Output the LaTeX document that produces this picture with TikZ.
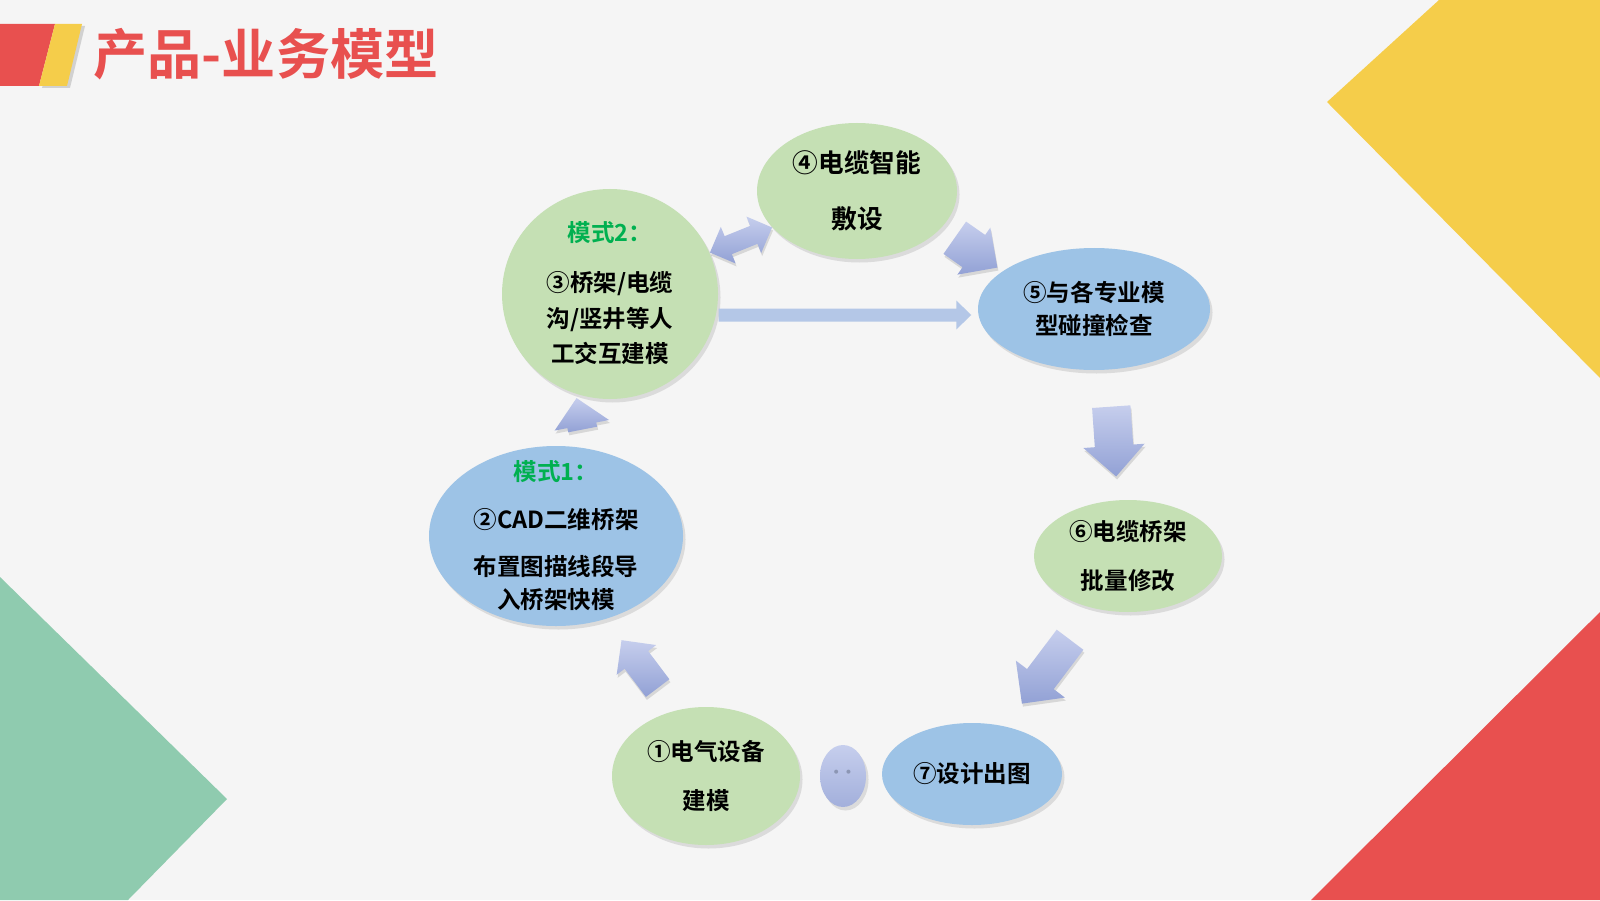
\documentclass[tikz,border=0pt]{standalone}
\usepackage{fontspec}
\newfontfamily\cjkbold{Noto Sans CJK SC Bold}
\definecolor{BgGray}{RGB}{245,245,245}
\definecolor{TitleRed}{RGB}{232,80,79}
\definecolor{CornerYellow}{RGB}{245,205,74}
\definecolor{CornerGreen}{RGB}{143,203,175}
\definecolor{LeafGreen}{RGB}{197,224,180}
\definecolor{SkyBlue}{RGB}{157,195,230}
\definecolor{ModeGreen}{RGB}{0,176,80}
\definecolor{ArrowLight}{RGB}{198,206,237}
\definecolor{ArrowDark}{RGB}{146,161,213}
\definecolor{LineBlue}{RGB}{180,199,231}
\definecolor{DotGray}{RGB}{140,150,180}
\usetikzlibrary{arrows.meta, shapes.geometric, shapes.arrows, shadows, positioning}

\begin{document}
\begin{tikzpicture}[
    stage/.style={ellipse, draw=none, inner sep=0pt,
      drop shadow={opacity=0.22, shadow xshift=0.025cm, shadow yshift=-0.035cm}},
    stagetext/.style={align=center, inner sep=0pt, text=black,
      font=\cjkbold\fontsize{6.7}{9.4}\selectfont},
    flow/.style={single arrow, draw=none, inner xsep=0pt, minimum width=0pt,
      top color=ArrowLight, bottom color=ArrowDark,
      drop shadow={opacity=0.25, shadow xshift=0.01cm, shadow yshift=-0.03cm}},
  ]
  \useasboundingbox (0,0) rectangle (16,9);
  \fill[BgGray] (0,0) rectangle (16,9);

  % corners
  \fill[CornerYellow] (14.39,9) -- (16,9) -- (16,5.22) -- (13.27,7.98) -- cycle;
  \fill[CornerGreen] (0,3.23) -- (2.27,1.01) -- (1.28,0) -- (0,0) -- cycle;
  \fill[TitleRed] (16,2.88) -- (13.11,0) -- (16,0) -- cycle;

  % title
  \fill[TitleRed] (0,8.76) -- (0.55,8.76) -- (0.39,8.14) -- (0,8.14) -- cycle;
  \fill[CornerYellow, drop shadow={opacity=0.3, shadow xshift=0.03cm, shadow yshift=-0.02cm}]
    (0.55,8.76) -- (0.82,8.76) -- (0.67,8.14) -- (0.39,8.14) -- cycle;
  \node[anchor=west, inner sep=0pt, text=TitleRed, font=\cjkbold\fontsize{15.4}{18}\selectfont]
    (title) at (0.93,8.46) {产品-业务模型};

  % stages
  \node[stage, fill=LeafGreen, minimum width=2.00cm, minimum height=1.36cm] (n4) at (8.57,7.09) {};
  \node[stage, fill=LeafGreen, minimum width=2.16cm, minimum height=2.10cm] (n3) at (6.10,6.06) {};
  \node[stage, fill=SkyBlue, minimum width=2.32cm, minimum height=1.22cm] (n5) at (10.94,5.91) {};
  \node[stage, fill=SkyBlue, minimum width=2.54cm, minimum height=1.80cm] (n2) at (5.56,3.64) {};
  \node[stage, fill=LeafGreen, minimum width=1.88cm, minimum height=1.12cm] (n6) at (11.28,3.44) {};
  \node[stage, fill=LeafGreen, minimum width=1.88cm, minimum height=1.38cm] (n1) at (7.06,1.24) {};
  \node[stage, top color=ArrowLight, bottom color=ArrowDark!85, minimum width=0.46cm, minimum height=0.62cm,
        text=DotGray, font=\cjkbold\fontsize{7}{8}\selectfont] (more) at (8.43,1.24) {‥};
  \node[stage, fill=SkyBlue, minimum width=1.80cm, minimum height=1.02cm] (n7) at (9.72,1.26) {};

  \node[stagetext, font=\cjkbold\fontsize{7.3}{15.9}\selectfont] (t4) at (n4) {④电缆智能\\敷设};
  \node[stagetext, font=\cjkbold\fontsize{6.7}{10.1}\selectfont] (t3) at (6.10,6.065)
    {{\color{ModeGreen}模式2：}\\[0.145cm]③桥架/电缆\\沟/竖井等人\\工交互建模};
  \node[stagetext] (t5) at (n5) {⑤与各专业模\\型碰撞检查};
  \node[stagetext] (t2) at (n2)
    {{\color{ModeGreen}模式1：}\\[0.15cm]②CAD二维桥架\\[0.14cm]布置图描线段导\\入桥架快模};
  \node[stagetext, font=\cjkbold\fontsize{6.7}{13.9}\selectfont] (t6) at (n6) {⑥电缆桥架\\批量修改};
  \node[stagetext, font=\cjkbold\fontsize{6.7}{13.9}\selectfont] (t1) at (n1) {①电气设备\\建模};
  \node[stagetext] (t7) at (n7) {⑦设计出图};

  % flow arrows
  \node[flow, double arrow, inner ysep=0.09cm, double arrow head extend=0.10cm,
        minimum height=0.67cm, rotate=22] (a34) at (7.41,6.60) {};
  \node[flow, inner ysep=0.19cm, single arrow head extend=0.09cm,
        minimum height=0.52cm, rotate=-35] (a45) at (9.68,6.53) {};
  \node[flow, inner ysep=0.185cm, single arrow head extend=0.115cm,
        minimum height=0.70cm, rotate=-86] (a56) at (11.13,4.68) {};
  \node[flow, inner ysep=0.16cm, single arrow head extend=0.14cm,
        minimum height=0.80cm, rotate=-127] (a67) at (10.51,2.35) {};
  \node[flow, inner ysep=0.14cm, single arrow head extend=0.10cm,
        minimum height=0.60cm, rotate=127] (a12) at (6.44,2.30) {};
  \node[flow, inner ysep=0.14cm, single arrow head extend=0.13cm,
        minimum height=0.32cm, rotate=101] (a23) at (5.81,4.79) {};

  \draw[line width=0.13cm, draw=LineBlue, -{Triangle[length=0.15cm, width=0.28cm]}]
    ([yshift=-0.21cm]n3.east) -- ([xshift=-0.06cm, yshift=-0.06cm]n5.west);
\end{tikzpicture}
\end{document}
